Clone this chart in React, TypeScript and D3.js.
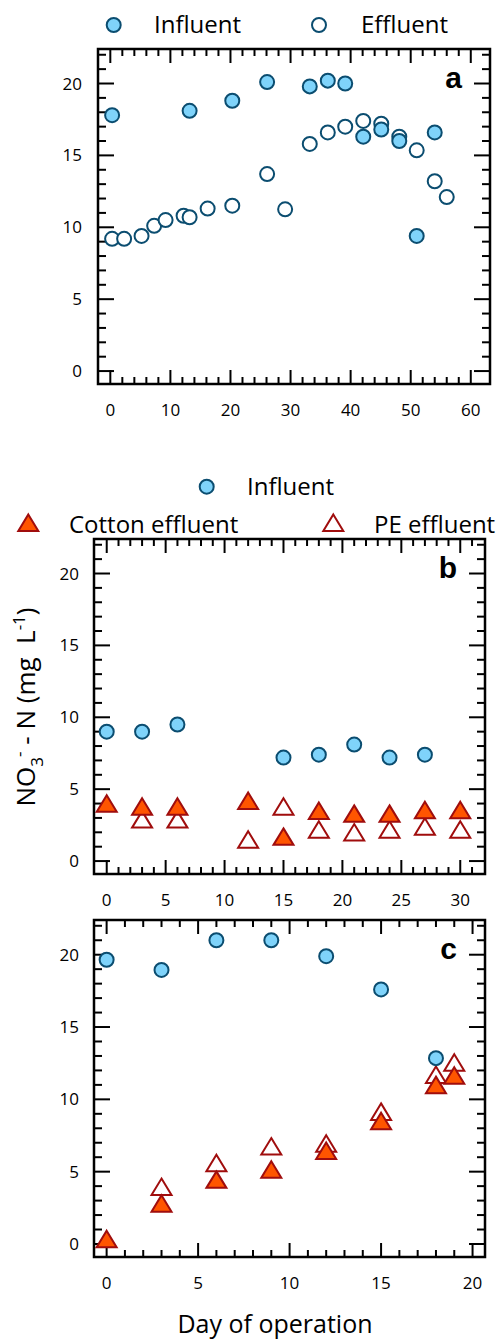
import React from "react";
import * as d3 from "d3";

// panel a
const aInfDays = [0.3, 13.2, 20.3, 26.1, 33.2, 36.2, 39.1, 42.1, 45.1, 48.1, 51.0, 54.0];
const aInf = [17.8, 18.1, 18.8, 20.1, 19.8, 20.2, 20.0, 16.3, 16.8, 16.0, 9.4, 16.6];
const aEffDays = [0.3, 2.3, 5.2, 7.3, 9.2, 12.2, 13.2, 16.2, 20.3, 26.1, 29.1, 33.2, 36.2, 39.1, 42.1, 45.1, 48.1, 51.0, 54.0, 56.0];
const aEff = [9.2, 9.2, 9.4, 10.1, 10.5, 10.8, 10.7, 11.3, 11.5, 13.7, 11.25, 15.8, 16.6, 17.0, 17.4, 17.2, 16.3, 15.35, 13.2, 12.1];

// panel b
const bInfDays = [0, 3, 6, 15, 18, 21, 24, 27];
const bInf = [9.0, 9.0, 9.5, 7.2, 7.4, 8.1, 7.2, 7.4];
const bCottonDays = [0, 3, 6, 12, 15, 18, 21, 24, 27, 30];
const bCotton = [4.0, 3.8, 3.8, 4.2, 1.7, 3.5, 3.3, 3.3, 3.55, 3.55];
const bPEDays = [3, 6, 12, 15, 18, 21, 24, 27, 30];
const bPE = [2.9, 2.9, 1.5, 3.8, 2.2, 2.0, 2.2, 2.4, 2.2];

// panel c
const cInfDays = [0, 3, 6, 9, 12, 15, 18];
const cInf = [19.65, 18.95, 21.0, 21.0, 19.9, 17.6, 12.85];
const cCottonDays = [0, 3, 6, 9, 12, 15, 18, 19];
const cCotton = [0.35, 2.8, 4.45, 5.15, 6.45, 8.5, 11.0, 11.65];
const cPEDays = [3, 6, 9, 12, 15, 18, 19];
const cPE = [3.95, 5.6, 6.75, 6.95, 9.15, 11.7, 12.55];

const yMajor = [0, 5, 10, 15, 20];

const FONT = "'Open Sans', sans-serif";
const INF_FILL = "#7fd3fa";
const INF_STROKE = "#0b4d70";
const COT_FILL = "#ff5500";
const TRI_STROKE = "#a00d0d";

const triPath = (cx: number, cy: number) => {
  const s = 20, h = 16.5;
  return `M${cx},${cy - h / 2}L${cx + s / 2},${cy + h / 2}L${cx - s / 2},${cy + h / 2}Z`;
};

type Series = { kind: "inf" | "eff" | "cotton" | "pe"; days: number[]; vals: number[] };

const Marker = ({ kind, x, y }: { kind: string; x: number; y: number }) => {
  if (kind === "inf") return <circle cx={x} cy={y} r={7} fill={INF_FILL} stroke={INF_STROKE} strokeWidth={2} />;
  if (kind === "eff") return <circle cx={x} cy={y} r={7} fill="white" stroke={INF_STROKE} strokeWidth={2} />;
  if (kind === "cotton") return <path d={triPath(x, y)} fill={COT_FILL} stroke={TRI_STROKE} strokeWidth={2} />;
  return <path d={triPath(x, y)} fill="white" stroke={TRI_STROKE} strokeWidth={2} />;
};

const Panel = ({ left, right, top, bottom, xDomain, xMajor, xMinorStep, xMax, series, letter, labelGap }: {
  left: number; right: number; top: number; bottom: number; xDomain: [number, number];
  xMajor: number[]; xMinorStep: number; xMax: number; series: Series[]; letter: string; labelGap: number;
}) => {
  const x = d3.scaleLinear().domain(xDomain).range([left, right]);
  const y = d3.scaleLinear().domain([-0.9, 22.4]).range([bottom, top]);
  const xMinor = d3.range(0, xMax + 0.001, xMinorStep).filter((v) => !xMajor.includes(v));
  const yMinor = d3.range(0, 23).filter((v) => !yMajor.includes(v));
  return (
    <g>
      {xMajor.map((v) => (
        <g key={"xM" + v}>
          <line x1={x(v)} x2={x(v)} y1={bottom} y2={bottom - 14} stroke="black" strokeWidth={2} />
          <line x1={x(v)} x2={x(v)} y1={top} y2={top + 14} stroke="black" strokeWidth={2} />
          <text x={x(v)} y={bottom + 32} textAnchor="middle" fontSize={17} fontFamily={FONT}>{v}</text>
        </g>
      ))}
      {xMinor.map((v) => (
        <g key={"xm" + v}>
          <line x1={x(v)} x2={x(v)} y1={bottom} y2={bottom - 7} stroke="black" strokeWidth={2} />
          <line x1={x(v)} x2={x(v)} y1={top} y2={top + 7} stroke="black" strokeWidth={2} />
        </g>
      ))}
      {yMajor.map((v) => (
        <g key={"yM" + v}>
          <line x1={left} x2={left + 16} y1={y(v)} y2={y(v)} stroke="black" strokeWidth={2} />
          <line x1={right} x2={right - 16} y1={y(v)} y2={y(v)} stroke="black" strokeWidth={2} />
          <text x={left - labelGap} y={y(v) + 6} textAnchor="end" fontSize={17} fontFamily={FONT}>{v}</text>
        </g>
      ))}
      {yMinor.map((v) => (
        <g key={"ym" + v}>
          <line x1={left} x2={left + 8} y1={y(v)} y2={y(v)} stroke="black" strokeWidth={2} />
          <line x1={right} x2={right - 8} y1={y(v)} y2={y(v)} stroke="black" strokeWidth={2} />
        </g>
      ))}
      <rect x={left} y={top} width={right - left} height={bottom - top} fill="none" stroke="black" strokeWidth={2.5} />
      {series.map((s, i) => (
        <g key={"s" + i}>
          {s.days.map((d, j) => <Marker key={j} kind={s.kind} x={x(d)} y={y(s.vals[j])} />)}
        </g>
      ))}
      <text x={right - 28} y={y(20) + 4} textAnchor="end" fontSize={30} fontWeight="bold" fontFamily="'Liberation Sans', Arial, sans-serif">{letter}</text>
    </g>
  );
};

const App = () => {
  return (
    <svg width={499} height={1342} style={{ position: "absolute", left: 0, top: 0, background: "white" }}>
      {/* legend a */}
      <Marker kind="inf" x={113.7} y={25} />
      <text x={154} y={33} fontSize={24} fontFamily={FONT}>Influent</text>
      <Marker kind="eff" x={319} y={25} />
      <text x={361} y={33} fontSize={24} fontFamily={FONT}>Effluent</text>

      <Panel left={98} right={490} top={49} bottom={384} xDomain={[-2.05, 63.2]}
        xMajor={[0, 10, 20, 30, 40, 50, 60]} xMinorStep={2} xMax={60} letter="a" labelGap={16}
        series={[
          { kind: "eff", days: aEffDays, vals: aEff },
          { kind: "inf", days: aInfDays, vals: aInf },
        ]} />

      {/* legend b/c */}
      <Marker kind="inf" x={206.7} y={486.7} />
      <text x={247} y={495} fontSize={24} fontFamily={FONT}>Influent</text>
      <Marker kind="cotton" x={28.3} y={522.7} />
      <text x={69} y={533} fontSize={24} fontFamily={FONT}>Cotton effluent</text>
      <Marker kind="pe" x={333.3} y={522.7} />
      <text x={374} y={533} fontSize={24} fontFamily={FONT}>PE effluent</text>

      <Panel left={94} right={485} top={539} bottom={874} xDomain={[-1.08, 32.1]}
        xMajor={[0, 5, 10, 15, 20, 25, 30]} xMinorStep={1} xMax={31} letter="b" labelGap={15}
        series={[
          { kind: "pe", days: bPEDays, vals: bPE },
          { kind: "cotton", days: bCottonDays, vals: bCotton },
          { kind: "inf", days: bInfDays, vals: bInf },
        ]} />

      <Panel left={94} right={485} top={920} bottom={1257} xDomain={[-0.69, 20.68]}
        xMajor={[0, 5, 10, 15, 20]} xMinorStep={1} xMax={20} letter="c" labelGap={15}
        series={[
          { kind: "pe", days: cPEDays, vals: cPE },
          { kind: "cotton", days: cCottonDays, vals: cCotton },
          { kind: "inf", days: cInfDays, vals: cInf },
        ]} />

      <text transform="translate(35,707) rotate(-90)" textAnchor="middle" fontSize={26} fontFamily={FONT}>
        NO<tspan fontSize={17} dy={8}>3</tspan><tspan fontSize={17} dy={-18}>-</tspan><tspan dy={10}>{"\u00A0-\u00A0N (mg\u00A0\u00A0L"}</tspan><tspan fontSize={17} dy={-10}>-1</tspan><tspan dy={10}>)</tspan>
      </text>

      <text x={275} y={1333} textAnchor="middle" fontSize={25} fontFamily={FONT}>Day of operation</text>
    </svg>
  );
};

export default App;
